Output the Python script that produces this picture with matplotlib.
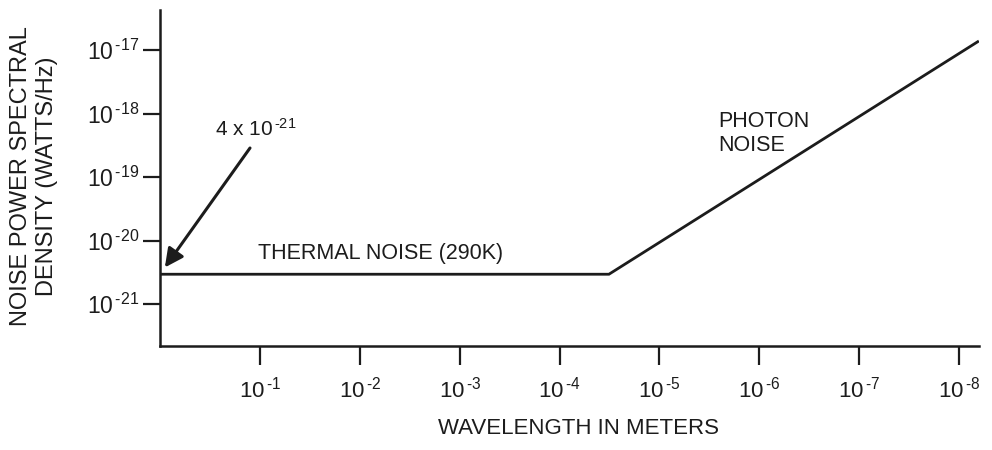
import matplotlib
matplotlib.use("Agg")
import matplotlib.pyplot as plt
from matplotlib.ticker import FixedLocator, FuncFormatter, NullLocator
import math

# ---- data ----
wavelength_m = [1.0, 3.2e-5, 6.5e-9]
noise_psd = [2.95e-21, 2.95e-21, 1.35e-17]
x_tick_exps = [-1, -2, -3, -4, -5, -6, -7, -8]
y_tick_exps = [-17, -18, -19, -20, -21]

plt.rcParams['font.family'] = ['Liberation Sans', 'DejaVu Sans']
plt.rcParams['mathtext.fontset'] = 'custom'
plt.rcParams['mathtext.rm'] = 'Liberation Sans'
plt.rcParams['mathtext.it'] = 'Liberation Sans:italic'
plt.rcParams['mathtext.bf'] = 'Liberation Sans:bold'
plt.rcParams['axes.unicode_minus'] = False

INK = '#1c1c1c'


def pow_label(e):
    return r'$\mathregular{10}^{\,\text{-%d}}$' % abs(e)


fig = plt.figure(figsize=(9.92, 4.5), dpi=100)
ax = fig.add_axes([160 / 992, 1 - 346 / 450, (979 - 160) / 992, (346 - 10) / 450])

ax.plot(wavelength_m, noise_psd, color=INK, lw=2.0, solid_joinstyle='miter')

ax.set_xscale('log')
ax.set_yscale('log')
ax.set_xlim(1.0, 10 ** -8.2)
ax.set_ylim(10 ** -21.66, 10 ** -16.37)

ax.xaxis.set_major_locator(FixedLocator([10.0 ** e for e in x_tick_exps]))
ax.yaxis.set_major_locator(FixedLocator([10.0 ** e for e in y_tick_exps]))
ax.xaxis.set_minor_locator(NullLocator())
ax.yaxis.set_minor_locator(NullLocator())


def fmt(v, pos):
    return pow_label(int(round(math.log10(v))))


ax.xaxis.set_major_formatter(FuncFormatter(fmt))
ax.yaxis.set_major_formatter(FuncFormatter(fmt))

for s in ['top', 'right']:
    ax.spines[s].set_visible(False)
for s in ['left', 'bottom']:
    ax.spines[s].set_linewidth(1.8)
    ax.spines[s].set_color(INK)

ax.tick_params(axis='x', direction='out', length=14, width=1.6, color=INK,
               labelsize=16, labelcolor=INK, pad=8)
ax.tick_params(axis='y', direction='out', length=12, width=1.6, color=INK,
               labelsize=16.5, labelcolor=INK, pad=3)

ax.set_xlabel('WAVELENGTH IN METERS', fontsize=16, color=INK)
ax.xaxis.set_label_coords((579 - 160) / 819, -(429 - 346) / 336)
ax.xaxis.label.set_va('center')

fig.text(34 / 992, 1 - 176 / 450, 'NOISE POWER SPECTRAL\nDENSITY (WATTS/Hz)',
         rotation=90, ha='center', va='center', fontsize=17, color=INK,
         linespacing=1.2, multialignment='center')

ax.text((258 - 160) / 819, (346 - 254) / 336, 'THERMAL NOISE (290K)',
        transform=ax.transAxes, fontsize=15.5, color=INK, ha='left', va='center')
ax.text((718 - 160) / 819, (346 - 111) / 336, 'PHOTON\nNOISE',
        transform=ax.transAxes, fontsize=15.5, color=INK, ha='left', va='top',
        linespacing=1.2)

ax.text((215 - 160) / 819, (346 - 136) / 336,
        r'4 x $\mathregular{10}^{\,\text{-21}}$',
        transform=ax.transAxes, fontsize=15, color=INK, ha='left', va='baseline')
ax.annotate('', xy=(wavelength_m[0], noise_psd[0]), xycoords='data',
            xytext=((250 - 160) / 819, (346 - 148) / 336), textcoords='axes fraction',
            arrowprops=dict(arrowstyle='-|>', mutation_scale=28, lw=2.2, color=INK,
                            shrinkA=0, shrinkB=6))

fig.savefig('out.png', dpi=100)
